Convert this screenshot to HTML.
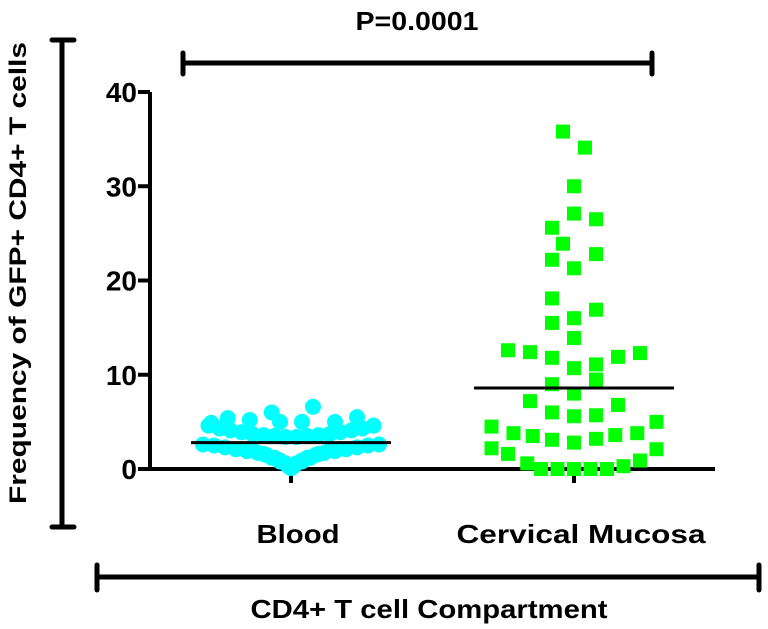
<!DOCTYPE html>
<html><head><meta charset="utf-8"><style>
html,body{margin:0;padding:0;background:#fff;}
svg{display:block;font-family:"Liberation Sans",Arial,sans-serif;font-weight:bold;}
</style></head><body>
<svg id="chart" width="768" height="629" viewBox="0 0 768 629">
  <text x="417" y="30" text-anchor="middle" font-size="26" textLength="123" lengthAdjust="spacingAndGlyphs">P=0.0001</text>
  <g stroke="#000" stroke-width="5" stroke-linecap="round">
    <line x1="183" y1="63" x2="652" y2="63"/><line x1="183" y1="53" x2="183" y2="74"/><line x1="652" y1="53" x2="652" y2="74"/>
  </g>
  <g stroke="#000" stroke-width="5" stroke-linecap="round">
    <line x1="62" y1="40" x2="62" y2="527"/><line x1="52" y1="40" x2="74" y2="40"/><line x1="52" y1="527" x2="74" y2="527"/>
  </g>
  <text transform="translate(26,273) rotate(-90)" text-anchor="middle" font-size="24" textLength="462" lengthAdjust="spacingAndGlyphs">Frequency of GFP+ CD4+ T cells</text>
  <g stroke="#000" stroke-width="5" stroke-linecap="round">
    <line x1="97" y1="577" x2="759" y2="577"/><line x1="97" y1="565" x2="97" y2="590"/><line x1="759" y1="565" x2="759" y2="590"/>
  </g>
  <text x="429" y="618" text-anchor="middle" font-size="26" textLength="357" lengthAdjust="spacingAndGlyphs">CD4+ T cell Compartment</text>
  <g id="axes"></g>
  <g id="marks"></g>
</svg>
<script>
const categories = ["Blood", "Cervical Mucosa"];
const yTicks = [0, 10, 20, 30, 40];
const bloodValues = [6.6,6.0,5.4,5.2,5.0,5.0,5.0,5.5,4.9,4.6,
  4.6,4.3,4.1,3.9,3.7,3.6,3.5,3.4,3.4,3.5,3.6,3.7,3.9,4.1,4.3,4.6,
  2.6,2.5,2.3,2.1,1.9,1.7,1.5,1.2,0.9,0.6,0.3,0.1,0.3,0.6,0.9,1.2,1.5,1.7,1.9,2.1,2.3,2.5,2.6,
  2.0,1.6,1.2,0.8,0.8,1.2,1.6,2.0];
const bloodJitter = [0.08,-0.07,-0.23,-0.15,-0.04,0.04,0.16,0.24,-0.29,0.30,
  -0.3,-0.26,-0.22,-0.18,-0.14,-0.1,-0.06,-0.02,0.02,0.06,0.1,0.14,0.18,0.22,0.26,0.3,
  -0.32,-0.28,-0.24,-0.2,-0.16,-0.12,-0.09,-0.06,-0.04,-0.02,-0.01,0,0.01,0.02,0.04,0.06,0.09,0.12,0.16,0.2,0.24,0.28,0.32,
  -0.14,-0.1,-0.07,-0.04,0.04,0.07,0.1,0.14];
const mucosaValues = [35.8,34.1,30.0,27.1,25.6,26.5,23.9,22.2,22.8,21.3,
  18.1,15.5,16.0,16.9,13.9,12.6,12.4,11.8,10.7,11.1,11.9,12.3,
  9.0,8.0,9.5,7.2,6.0,5.6,5.7,6.8,4.5,3.8,3.5,3.1,2.8,3.2,3.6,3.8,5.0,
  2.2,1.6,0.6,0,0,0,0,0,0.3,0.9,2.1];
const mucosaJitter = [-0.04,0.04,0,0,-0.08,0.08,-0.04,-0.08,0.08,0,
  -0.08,-0.08,0,0.08,0,-0.24,-0.16,-0.08,0,0.08,0.16,0.24,
  -0.08,0,0.08,-0.16,-0.08,0,0.08,0.16,-0.3,-0.22,-0.15,-0.08,0,0.08,0.15,0.23,0.3,
  -0.3,-0.24,-0.17,-0.12,-0.06,0,0.06,0.12,0.18,0.24,0.3];
const meanValues = [2.8, 8.6];

const X0=150, X1=715, Y0=469, Y40=92;
const yScale = v => Y0 - (v/40)*(Y0-Y40);
const catCenters = [291, 574];
const catWidth = 275;
const xScale = (ci, j) => catCenters[ci] + j*catWidth;
const NS="http://www.w3.org/2000/svg";
function mk(tag, attrs, parent){const e=document.createElementNS(NS,tag);for(const k in attrs)e.setAttribute(k,attrs[k]);parent.appendChild(e);return e;}
const axes=document.getElementById('axes'), marks=document.getElementById('marks');

bloodValues.forEach((v,i)=>{
  const c=mk('circle',{cx:xScale(0,bloodJitter[i]),cy:yScale(v),r:8,fill:'#00ffff'},marks);
  
  
});
mucosaValues.forEach((v,i)=>{
  const r=mk('rect',{x:xScale(1,mucosaJitter[i])-7,y:yScale(v)-7,width:14,height:14,fill:'#00ff00'},marks);
  
  
});
meanValues.forEach((m,ci)=>{
  const l=mk('line',{x1:catCenters[ci]-100,x2:catCenters[ci]+100,y1:yScale(m),y2:yScale(m),stroke:'#000','stroke-width':3},marks);
  
  
});

const ya=mk('line',{x1:X0,x2:X0,y1:Y40,y2:Y0+2,stroke:'#000','stroke-width':4},axes);


const xa=mk('line',{x1:X0-2,x2:X1,y1:Y0,y2:Y0,stroke:'#000','stroke-width':4},axes);


yTicks.forEach(t=>{
  const tk=mk('line',{x1:X0-12,x2:X0,y1:yScale(t),y2:yScale(t),stroke:'#000','stroke-width':4},axes);
  
  
  const tx=mk('text',{x:X0-13,y:yScale(t)+10,'text-anchor':'end','font-size':28},axes);
  tx.textContent=t;
  
  
});
const catLens=[83,249];
categories.forEach((c,ci)=>{
  const tk=mk('line',{x1:catCenters[ci],x2:catCenters[ci],y1:Y0,y2:Y0+14,stroke:'#000','stroke-width':4},axes);
  
  
  const tx=mk('text',{x:catCenters[ci]+7,y:543,'text-anchor':'middle','font-size':26,textLength:catLens[ci],lengthAdjust:'spacingAndGlyphs'},axes);
  tx.textContent=c;
  
  
});
</script>
</body></html>
